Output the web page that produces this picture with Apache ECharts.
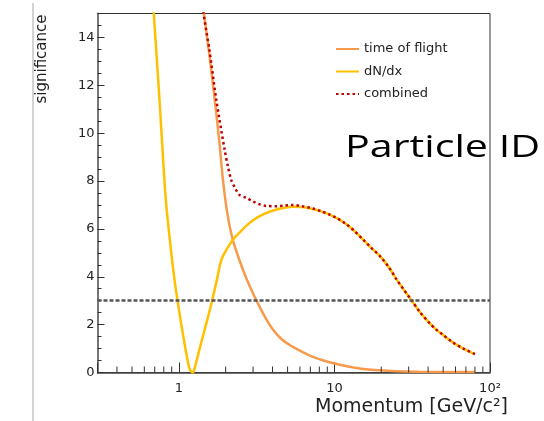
<!DOCTYPE html>
<html>
<head>
<meta charset="utf-8">
<script src="https://cdn.jsdelivr.net/npm/echarts@6/dist/echarts.min.js"></script>
<style>
  html, body { margin: 0; padding: 0; background: #fff; }
  #chart { width: 544px; height: 421px; }
</style>
</head>
<body>
<div id="chart"></div>
<script>
// momentum [GeV/c^2], significance
const timeOfFlight = [
  [1.39, 16], [1.45, 15], [1.57, 13.3], [1.70, 11.4], [1.83, 9.5], [1.92, 8.05], [2.05, 6.65],
  [2.22, 5.55], [2.45, 4.7], [2.71, 3.95], [3.0, 3.3], [3.3, 2.75], [3.63, 2.25], [4.02, 1.8],
  [4.6, 1.38], [5.41, 1.07], [6.3, 0.84], [7.27, 0.65], [8.5, 0.5], [10, 0.38], [12, 0.26],
  [14.5, 0.17], [19.5, 0.09], [25, 0.05], [35, 0.03], [50, 0.02], [80, 0.02]
];
const dNdx = [
  [0.67, 16.3], [0.69, 15], [0.751, 11.4], [0.821, 7.36], [0.871, 5.67], [0.938, 3.87],
  [1.0, 2.65], [1.072, 1.44], [1.137, 0.52], [1.171, 0.15], [1.207, 0.02], [1.225, 0],
  [1.243, 0.03], [1.28, 0.32], [1.359, 0.99], [1.442, 1.62], [1.53, 2.25], [1.64, 3.03],
  [1.755, 3.87], [1.874, 4.7], [2.03, 5.15], [2.22, 5.54], [2.5, 5.9], [2.84, 6.24],
  [3.2, 6.48], [3.63, 6.66], [4.2, 6.8], [4.67, 6.87], [5.41, 6.93], [6.2, 6.92], [7.27, 6.83],
  [8.2, 6.73], [9.3, 6.6], [10.5, 6.43], [11.9, 6.2], [13.5, 5.9], [15.3, 5.55], [17.3, 5.2],
  [19.5, 4.88], [22.6, 4.36], [25, 3.9], [28, 3.45], [31.2, 3.03], [35.5, 2.52], [40.9, 2.06],
  [45, 1.8], [49.9, 1.57], [57, 1.28], [67, 1.01], [80, 0.77]
];
const combined = [
  [1.38, 16], [1.44, 15], [1.57, 13.5], [1.74, 11.4], [1.97, 9.3], [2.07, 8.6], [2.17, 8.05],
  [2.3, 7.7], [2.45, 7.42], [2.71, 7.3], [2.99, 7.15], [3.3, 7.03], [3.63, 6.96], [4.2, 6.95],
  [4.67, 6.97], [5.41, 7.0], [6.2, 6.95], [7.27, 6.85], [8.2, 6.74], [9.3, 6.6], [10.5, 6.43],
  [11.9, 6.2], [13.5, 5.9], [15.3, 5.55], [17.3, 5.2], [19.5, 4.88], [22.6, 4.36], [25, 3.9],
  [28, 3.45], [31.2, 3.03], [35.5, 2.52], [40.9, 2.06], [45, 1.8], [49.9, 1.57], [57, 1.28],
  [67, 1.01], [80, 0.77]
];
const threshold = 3;
const xMinorTicks = [0.4, 0.5, 0.6, 0.7, 0.8, 0.9, 2, 3, 4, 5, 6, 7, 8, 9, 20, 30, 40, 50, 60, 70, 80, 90];
const xTickLabels = { 0: '1', 1: '10', 2: '10²' };
const seriesNames = ['time of flight', 'dN/dx', 'combined'];

const chart = echarts.init(document.getElementById('chart'));
const labelFont = 'DejaVu Sans';

chart.setOption({
  animation: false,
  grid: {
    left: 97.5, right: 54, top: 13.5, bottom: 48.5,
    show: true, borderColor: '#333', borderWidth: 1
  },
  legend: {
    data: seriesNames,
    orient: 'vertical',
    left: 335, top: 42.5, padding: 0,
    itemWidth: 23, itemHeight: 14, itemGap: 9.5,
    itemStyle: { opacity: 0 },
    textStyle: { fontFamily: labelFont, fontSize: 13, color: '#222' }
  },
  xAxis: {
    type: 'log', logBase: 10, min: 0.3, max: 100,
    axisLine: { lineStyle: { color: '#444', width: 1.5 } },
    axisTick: { inside: true, length: 10, lineStyle: { color: '#333' } },
    axisLabel: {
      margin: 10, fontFamily: labelFont, fontSize: 13, color: '#222',
      formatter: v => {
        const e = Math.log10(v);
        return Math.abs(e - Math.round(e)) < 1e-6 ? (xTickLabels[Math.round(e)] || '') : '';
      }
    },
    splitLine: { show: false }
  },
  yAxis: [
    {
      type: 'value', min: 0, max: 15, interval: 2,
      axisLine: { show: true, lineStyle: { color: '#777', width: 2 } },
      axisTick: { inside: true, length: 7, lineStyle: { color: '#333' } },
      axisLabel: {
        margin: 3, fontFamily: labelFont, fontSize: 13, color: '#222',
        formatter: v => (v > 14 ? '' : String(v))
      },
      splitLine: { show: false }
    },
    {
      type: 'value', min: 0, max: 15, interval: 0.5, position: 'left',
      axisLine: { show: false },
      axisTick: { inside: true, length: 4, lineStyle: { color: '#333' } },
      axisLabel: { show: false },
      splitLine: { show: false }
    }
  ],
  series: [
    {
      name: 'time of flight', type: 'line', data: timeOfFlight,
      smooth: 0.3, showSymbol: false, symbol: 'none', z: 3,
      lineStyle: { color: '#F79A4C', width: 2.5 }, itemStyle: { color: '#F79A4C' }
    },
    {
      name: 'dN/dx', type: 'line', data: dNdx,
      smooth: 0.3, showSymbol: false, symbol: 'none', z: 3,
      lineStyle: { color: '#FFC000', width: 2.5 }, itemStyle: { color: '#FFC000' },
      markLine: {
        silent: true, symbol: 'none', label: { show: false },
        lineStyle: { color: '#555', width: 2.5, type: [4, 2] },
        emphasis: { disabled: true },
        data: [{ yAxis: threshold }]
      }
    },
    {
      name: 'combined', type: 'line', data: combined,
      smooth: 0.3, showSymbol: false, symbol: 'none', z: 4,
      lineStyle: { color: '#C00000', width: 2.5, type: [2.5, 3] }, itemStyle: { color: '#C00000' }
    },
    {
      // minor ticks of the log axis
      type: 'custom', silent: true, clip: false, z: 5,
      data: xMinorTicks.map(v => [v, 0]),
      encode: { x: 0, y: 1 },
      renderItem: (params, api) => {
        const p = api.coord([api.value(0), 0]);
        return {
          type: 'line',
          shape: { x1: p[0], y1: p[1], x2: p[0], y2: p[1] - 6 },
          style: { stroke: '#333', lineWidth: 1 }
        };
      }
    }
  ],
  graphic: [
    { type: 'line', shape: { x1: 33, y1: 3, x2: 33, y2: 421 }, style: { stroke: '#a6a6a6', lineWidth: 1 } },
    {
      type: 'text', x: 42.5, y: 59, rotation: Math.PI / 2,
      style: { text: 'significance', fontFamily: labelFont, fontSize: 15, fill: '#222', align: 'center', verticalAlign: 'middle' }
    },
    {
      type: 'text', x: 508, y: 407,
      style: { text: 'Momentum [GeV/c²]', fontFamily: labelFont, fontSize: 19, fill: '#222', align: 'right', verticalAlign: 'middle' }
    },
    {
      type: 'text', x: 345, y: 148, scaleX: 1.33, z: -1,
      style: { text: 'Particle ID', fontFamily: 'Open Sans', fontSize: 31, fill: '#000', align: 'left', verticalAlign: 'middle' }
    }
  ]
});
</script>
</body>
</html>
